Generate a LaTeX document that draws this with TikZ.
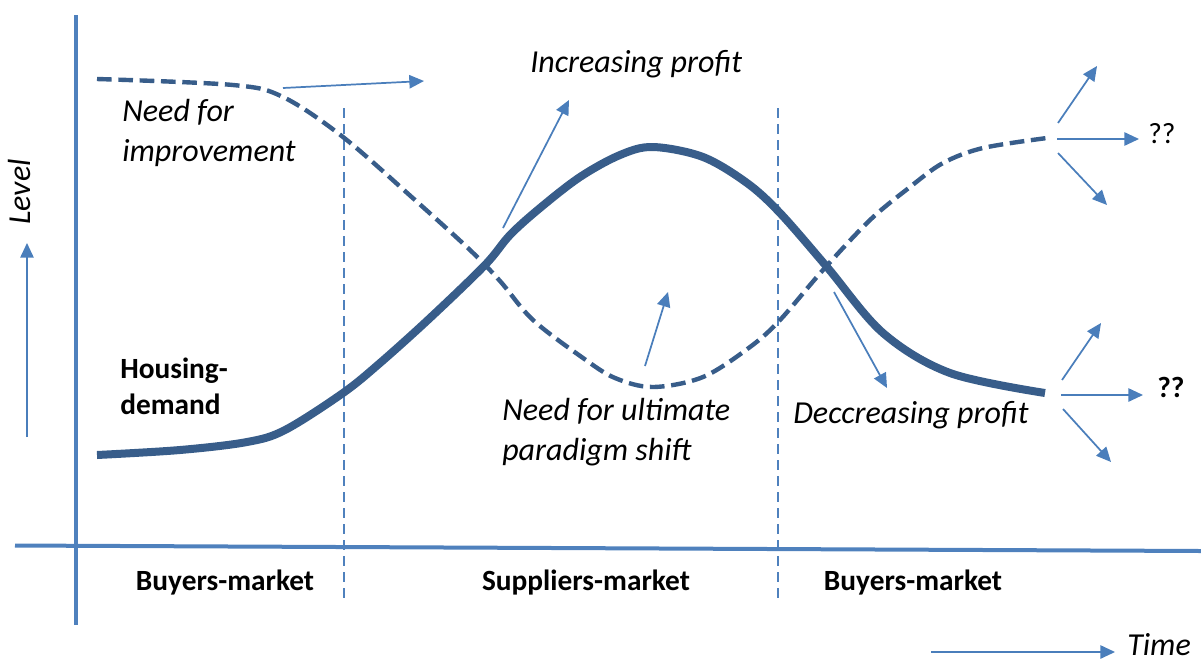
\documentclass[tikz,border=0pt]{standalone}
\usepackage{fontspec}
\setmainfont{Carlito}
\usetikzlibrary{arrows.meta}
\definecolor{axisblue}{HTML}{4F81BD}
\definecolor{arrowblue}{HTML}{4A7EBB}
\definecolor{curveblue}{HTML}{385D8A}

\begin{document}
\begin{tikzpicture}[x=0.75pt,y=-0.75pt,
  axisline/.style={axisblue,line width=3pt},
  divider/.style={axisblue,line width=1.6pt,dash pattern=on 7.5pt off 4.5pt},
  demand/.style={curveblue,line width=6pt},
  need/.style={curveblue,line width=3.3pt,dash pattern=on 11pt off 5pt},
  pointer/.style={arrowblue,line width=1.3pt,-{Triangle[length=11pt,width=10pt]}},
  itlabel/.style={font=\fontsize{24}{30}\selectfont\itshape,inner sep=0pt,anchor=base west,align=left},
  bdlabel/.style={font=\fontsize{22}{27}\selectfont\bfseries,inner sep=0pt,anchor=base west,align=left},
  qlabel/.style={font=\fontsize{22}{27}\selectfont,inner sep=0pt,anchor=base west},
]
\useasboundingbox (0,0) rectangle (1201,661);

% axes
\coordinate (ytop) at (75.5,15);
\coordinate (ybot) at (75.5,625);
\coordinate (xleft) at (15,545.5);
\coordinate (xright) at (1201,551);
\draw[axisline] (ytop) -- (ybot);
\draw[axisline] (xleft) -- (xright);

% market boundaries
\coordinate (d1top) at (344,108);
\coordinate (d1bot) at (344,600);
\coordinate (d2top) at (778,108);
\coordinate (d2bot) at (778,602);
\draw[divider] (d1top) -- (d1bot);
\draw[divider] (d2top) -- (d2bot);

% need for change (dashed)
\draw[need] plot[smooth,tension=0.55] coordinates {
  (97,79) (233,85) (283,97) (343,137) (415,200) (470,250) (500,281)
  (533,320) (583,358) (615,378) (653,387) (703,377) (750,347) (780,320)
  (823,270) (870,220) (910,187) (943,163) (983,148) (1047,138)};

% housing demand (solid)
\draw[demand] plot[smooth,tension=0.55] coordinates {
  (97,455) (180,450) (247,442) (285,430) (343,393) (380,363) (430,318)
  (485,265) (510,235) (540,208) (580,177) (620,155) (653,147) (703,157)
  (747,183) (780,213) (827,267) (883,333) (950,373) (1045,393)};

% pointers
\coordinate (a1s) at (283,88);   \coordinate (a1e) at (424,81);
\coordinate (a2s) at (503,228);  \coordinate (a2e) at (569,100);
\coordinate (a3s) at (645,366);  \coordinate (a3e) at (668,292);
\coordinate (a4s) at (834,292);  \coordinate (a4e) at (887,388);
\draw[pointer] (a1s) -- (a1e);
\draw[pointer] (a2s) -- (a2e);
\draw[pointer] (a3s) -- (a3e);
\draw[pointer] (a4s) -- (a4e);

% futures of the need curve
\coordinate (u1s) at (1058,123); \coordinate (u1e) at (1097,66);
\coordinate (u2s) at (1057,139); \coordinate (u2e) at (1139,139);
\coordinate (u3s) at (1058,153); \coordinate (u3e) at (1107,205);
\draw[pointer] (u1s) -- (u1e);
\draw[pointer] (u2s) -- (u2e);
\draw[pointer] (u3s) -- (u3e);

% futures of the demand curve
\coordinate (l1s) at (1062,380); \coordinate (l1e) at (1101,323);
\coordinate (l2s) at (1061,395); \coordinate (l2e) at (1143,395);
\coordinate (l3s) at (1063,409); \coordinate (l3e) at (1111,462);
\draw[pointer] (l1s) -- (l1e);
\draw[pointer] (l2s) -- (l2e);
\draw[pointer] (l3s) -- (l3e);

% direction arrows of the axes
\coordinate (lvs) at (27,437); \coordinate (lve) at (27,243);
\coordinate (tms) at (931,652); \coordinate (tme) at (1115,652);
\draw[pointer] (lvs) -- (lve);
\draw[pointer] (tms) -- (tme);

% labels (multi-line labels are placed by the baseline of their last line)
\node[itlabel] (incr) at (530,72) {Increasing profit};
\node[itlabel] (impr) at (122,161) {Need for\\improvement};
\node[bdlabel] (house) at (120,414) {Housing-\\demand};
\node[itlabel] (shift) at (502,460) {Need for ultimate\\paradigm shift};
\node[itlabel] (decr) at (793,423) {Deccreasing profit};
\node[qlabel] (q1) at (1148,143) {??};
\node[bdlabel] (q2) at (1157,397) {??};
\node[itlabel] (time) at (1127,655) {Time};
\node[itlabel,rotate=90] (level) at (31,225) {Level};

\node[bdlabel,anchor=base] (m1) at (225,590) {Buyers-market};
\node[bdlabel,anchor=base] (m2) at (586,590) {Suppliers-market};
\node[bdlabel,anchor=base] (m3) at (913,590) {Buyers-market};
\end{tikzpicture}
\end{document}
